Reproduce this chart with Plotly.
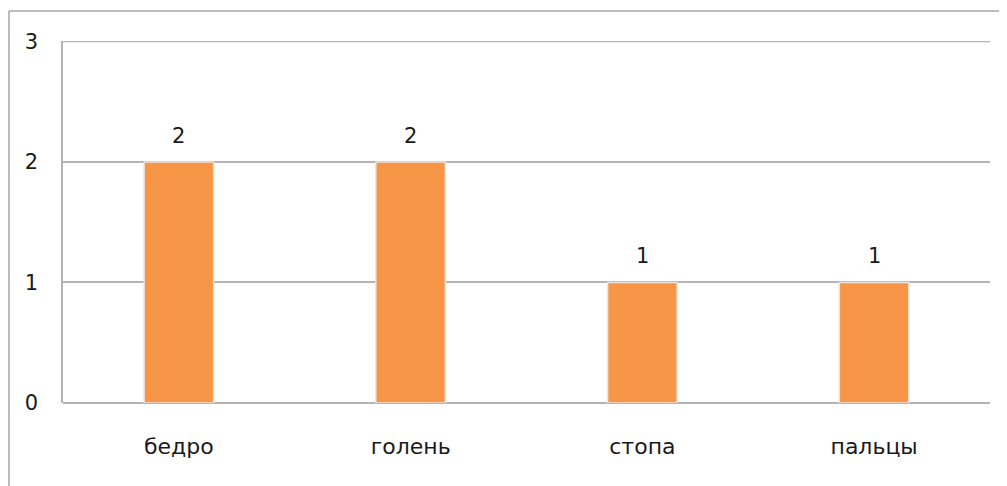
import plotly.graph_objects as go

# data
categories = ['бедро', 'голень', 'стопа', 'пальцы']
counts = [2, 2, 1, 1]
y_ticks = [0, 1, 2, 3]

font_name = 'DejaVu Sans'
grid_col = '#B4B4B4'

fig = go.Figure(go.Bar(
    x=categories,
    y=counts,
    width=0.3,
    marker=dict(color='#F79646', line=dict(color='#E9E4E0', width=1.5)),
    hoverinfo='skip',
))

# value labels above the bars
for c, v in zip(categories, counts):
    fig.add_annotation(x=c, y=v, text=str(v), showarrow=False,
                       yanchor='bottom', yshift=12,
                       font=dict(family=font_name, size=21, color='#1a1a1a'))

# plotly drops the gridline at the very top of the range, draw it by hand
fig.add_shape(type='line', xref='paper', yref='y',
              x0=0, x1=1, y0=y_ticks[-1], y1=y_ticks[-1],
              line=dict(color=grid_col, width=1.5), layer='below')

# outer frame of the chart area (left and top edges visible)
fig.add_shape(type='line', xref='paper', yref='paper',
              x0=-0.0583, x1=-0.0583, y0=1.083, y1=-0.25,
              line=dict(color='#A6A6A6', width=1.5))
fig.add_shape(type='line', xref='paper', yref='paper',
              x0=-0.0583, x1=1.05, y0=1.083, y1=1.083,
              line=dict(color='#A6A6A6', width=1.5))

# page has an 8px body margin, so the figure is a bit smaller
fig.update_layout(
    width=999, height=478,
    margin=dict(l=55, r=17, t=33, b=83),
    paper_bgcolor='white', plot_bgcolor='white',
    showlegend=False,
    font=dict(family=font_name, size=21, color='#1a1a1a'),
    xaxis=dict(showgrid=False, showline=False, ticks='', zeroline=False,
               tickfont=dict(size=22), ticklabelstandoff=28),
    yaxis=dict(range=[0, 3.004], tickvals=y_ticks, showgrid=True, gridcolor=grid_col,
               gridwidth=1.5, zeroline=True, zerolinecolor=grid_col, zerolinewidth=1.5,
               showline=True, linecolor=grid_col, linewidth=1.5,
               ticks='', tickfont=dict(size=21), ticklabelstandoff=19),
)

fig.write_html("out.html")
